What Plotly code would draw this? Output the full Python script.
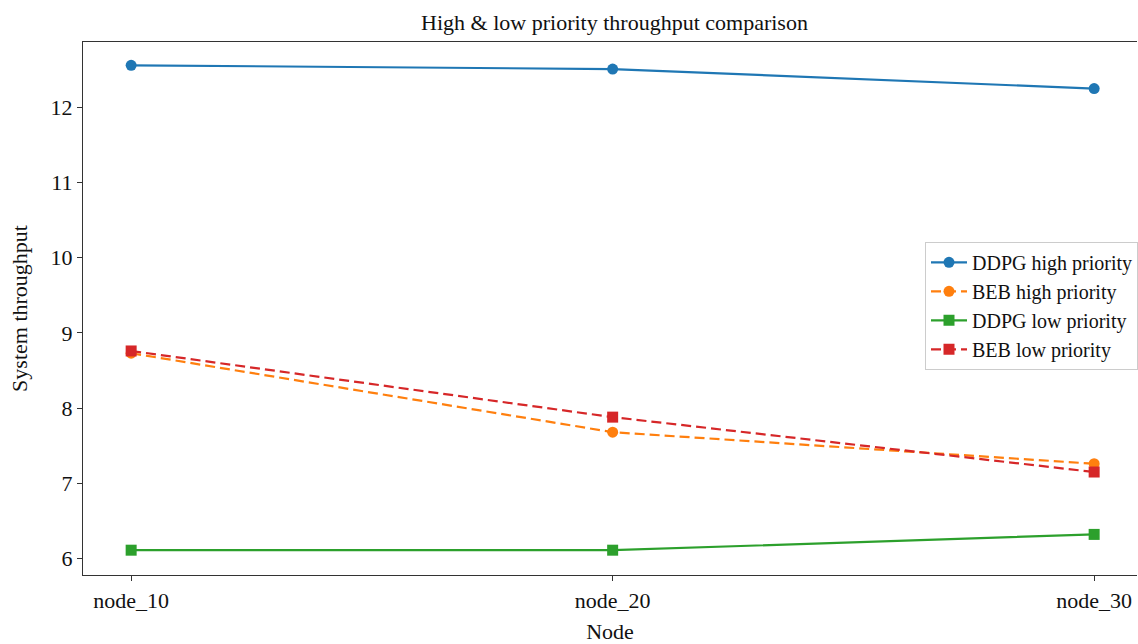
import plotly.graph_objects as go

nodes = ["node_10", "node_20", "node_30"]
ddpg_high = [12.56, 12.51, 12.25]
beb_high = [8.73, 7.68, 7.26]
ddpg_low = [6.11, 6.11, 6.32]
beb_low = [8.76, 7.88, 7.15]
y_ticks = [6, 7, 8, 9, 10, 11, 12]

FONT = "Liberation Serif, Times New Roman, serif"

series = [
    ("DDPG high priority", ddpg_high, "#1f77b4", "solid", "circle"),
    ("BEB high priority", beb_high, "#ff7f0e", "10px,5px", "circle"),
    ("DDPG low priority", ddpg_low, "#2ca02c", "solid", "square"),
    ("BEB low priority", beb_low, "#d62728", "10px,5px", "square"),
]

fig = go.Figure()
for name, vals, color, dash, symbol in series:
    fig.add_trace(go.Scatter(
        x=list(range(len(nodes))), y=vals, name=name, mode="lines+markers",
        line=dict(color=color, width=2.2, dash=dash),
        marker=dict(color=color, size=11, symbol=symbol, line=dict(width=0)),
    ))

fig.update_layout(
    width=1138, height=644,
    margin=dict(l=83, r=0, t=42, b=69),
    paper_bgcolor="white", plot_bgcolor="white",
    font=dict(family=FONT, size=22, color="#111111"),
    title=dict(text="High & low priority throughput comparison", x=0.54, xanchor="center",
               y=0.965, yanchor="middle", font=dict(size=22)),
    showlegend=True,
    legend=dict(x=0.799, y=0.505, xanchor="left", yanchor="middle",
                bgcolor="white", bordercolor="#cccccc", borderwidth=1,
                font=dict(size=20), tracegroupgap=0, itemwidth=36),
)
fig.update_xaxes(
    range=[-0.1, 2.089], tickmode="array", tickvals=list(range(len(nodes))), ticktext=nodes,
    showgrid=False, zeroline=False, showline=True, linecolor="#333333", linewidth=1.3,
    mirror=True, ticks="outside", ticklen=5, tickcolor="#333333",
    title=dict(text="Node", standoff=14, font=dict(size=22)),
)
fig.update_yaxes(
    range=[5.78, 12.87], tickmode="array", tickvals=y_ticks,
    showgrid=False, zeroline=False, showline=True, linecolor="#333333", linewidth=1.3,
    ticks="outside", ticklen=5, tickcolor="#333333",
    title=dict(text="System throughput", standoff=16, font=dict(size=22)),
)

fig.write_html("out.html")
